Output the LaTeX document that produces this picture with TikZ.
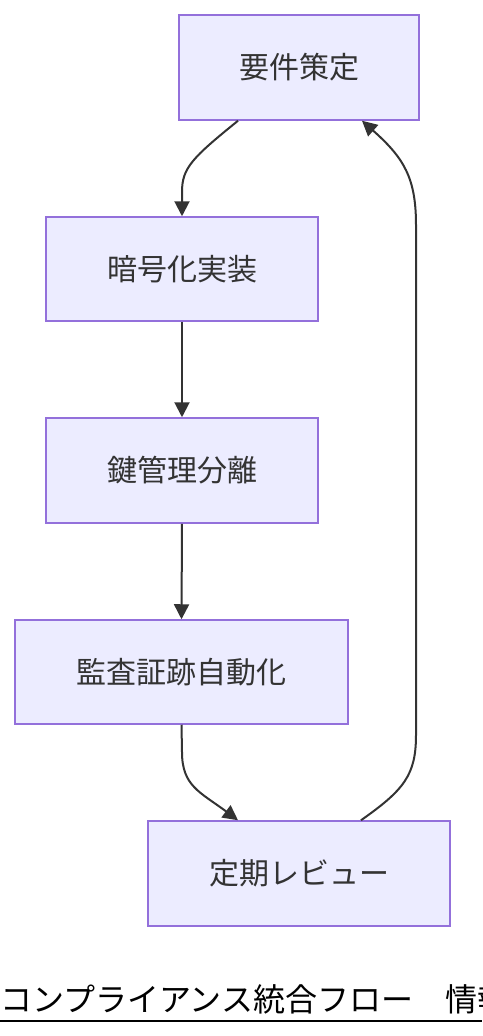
\documentclass[tikz,border=0pt]{standalone}
\usepackage{fontspec}
\newfontfamily\cjk{Noto Sans CJK JP}
\usetikzlibrary{arrows.meta,calc}
\definecolor{boxfill}{HTML}{ECECFF}
\definecolor{boxline}{HTML}{9370DB}
\definecolor{ink}{HTML}{333333}
\begin{document}
\begin{tikzpicture}[x=1pt,y=-1pt,
  flowbox/.style={draw=boxline,fill=boxfill,line width=1.5pt,rectangle,inner sep=0pt,
    text=ink,font=\cjk\fontsize{30}{36}\selectfont},
  flowedge/.style={draw=ink,line width=2pt,-{Triangle[length=15pt,width=15pt]}}]
\useasboundingbox (0,0) rectangle (482,1036);
\node[flowbox,minimum width=240pt,minimum height=105pt] (req) at (299,67.5) {要件策定};
\node[flowbox,minimum width=272pt,minimum height=104pt] (enc) at (182,269) {暗号化実装};
\node[flowbox,minimum width=272pt,minimum height=105pt] (key) at (182,470.5) {鍵管理分離};
\node[flowbox,minimum width=333pt,minimum height=104pt] (aud) at (181.5,672) {監査証跡自動化};
\node[flowbox,minimum width=302pt,minimum height=105pt] (rev) at (299,873.5) {定期レビュー};
\draw[flowedge] ($(req.south)+(-61,0)$) .. controls (192,158) and (182,168) .. (182,192) -- (enc.north);
\draw[flowedge] (enc.south) -- (key.north);
\draw[flowedge] (key.south) -- (aud.north);
\draw[flowedge] (aud.south) -- (182,752) .. controls (182,786) and (200,792) .. ($(rev.north)+(-61,0)$);
\draw[flowedge] ($(rev.north)+(62,0)$) .. controls (404,790) and (416,775) .. (416,735) -- (416,225) .. controls (416,178) and (404,158) .. ($(req.south)+(63,0)$);
\node[anchor=base west,inner sep=0pt,font=\cjk\fontsize{32}{38}\selectfont,text=black] (title) at (0,1011) {コンプライアンス統合フロー　情報};
\coordinate (ulA) at (0,1021);
\coordinate (ulB) at (482,1021);
\draw[line width=2pt,black] (ulA) -- (ulB);
\end{tikzpicture}
\end{document}
